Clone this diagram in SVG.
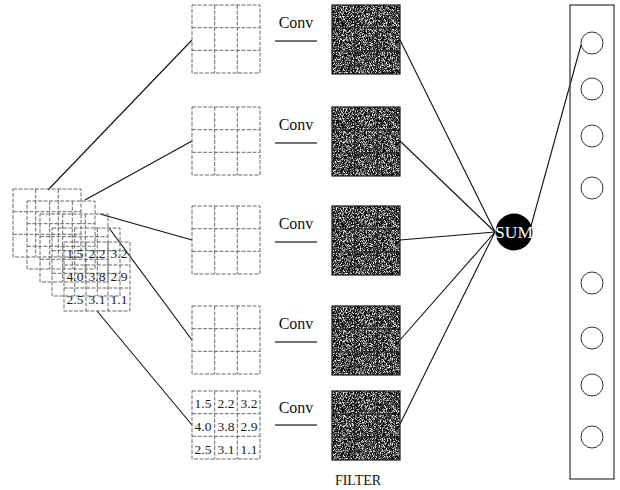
<svg xmlns="http://www.w3.org/2000/svg" width="620" height="490" viewBox="0 0 620 490">
<style>
.g{fill:none;stroke:#6a6a6a;stroke-width:1;stroke-dasharray:4 1.5}
.gl{stroke:#6a6a6a;stroke-width:1;stroke-dasharray:4 1.5}
.c{stroke:#111;stroke-width:1.1;fill:none}
.t{font-family:"Liberation Serif","Times New Roman",serif;fill:#111}
.n{font-family:"Liberation Serif","Times New Roman",serif;font-size:13.5px;fill:#222;text-anchor:middle}
.ul{stroke:#444;stroke-width:1.5}
.fl{stroke:#1a1a1a;stroke-width:1.2;fill:none}
</style>
<defs>
<filter id="noise" x="0" y="0" width="1" height="1" color-interpolation-filters="sRGB">
<feTurbulence type="fractalNoise" baseFrequency="1.3" numOctaves="2" seed="3" result="t"/>
<feColorMatrix in="t" type="matrix" values="3.2 0 0 0 -1.3  3.2 0 0 0 -1.3  3.2 0 0 0 -1.3  0 0 0 0 1" result="m"/>
<feComposite in="m" in2="SourceGraphic" operator="in"/>
</filter>
<g id="grid3x3">
<rect class="g" x="0" y="0" width="68" height="68"/>
<line class="gl" x1="22.7" y1="0" x2="22.7" y2="68"/>
<line class="gl" x1="45.3" y1="0" x2="45.3" y2="68"/>
<line class="gl" x1="0" y1="22.7" x2="68" y2="22.7"/>
<line class="gl" x1="0" y1="45.3" x2="68" y2="45.3"/>
</g>
<g id="filt">
<rect x="0" y="0" width="68" height="69" fill="#333" filter="url(#noise)"/>
<rect class="fl" x="0" y="0" width="68" height="69" stroke="#222"/>
<line x1="22.7" y1="0" x2="22.7" y2="69" stroke="#1c1c1c" stroke-width="1"/>
<line x1="45.3" y1="0" x2="45.3" y2="69" stroke="#1c1c1c" stroke-width="1"/>
<line x1="0" y1="23" x2="68" y2="23" stroke="#1c1c1c" stroke-width="1"/>
<line x1="0" y1="46" x2="68" y2="46" stroke="#1c1c1c" stroke-width="1"/>
</g>
</defs>
<rect width="620" height="490" fill="#fff"/>

<g id="connectors">
<line class="c" x1="48" y1="190" x2="192" y2="40"/>
<line class="c" x1="85" y1="200" x2="192" y2="141"/>
<line class="c" x1="100" y1="214" x2="192" y2="240"/>
<line class="c" x1="109" y1="228" x2="192" y2="340"/>
<line class="c" x1="97" y1="311" x2="192" y2="425"/>
<line class="c" x1="400" y1="40" x2="495" y2="232"/>
<line class="c" x1="400" y1="141" x2="495" y2="232"/>
<line class="c" x1="400" y1="240" x2="495" y2="232"/>
<line class="c" x1="400" y1="340" x2="495" y2="232"/>
<line class="c" x1="400" y1="424" x2="495" y2="232"/>
<line class="c" x1="531" y1="226" x2="581" y2="45"/>
</g>

<g id="input-stack">
<use href="#grid3x3" x="13" y="189"/>
<use href="#grid3x3" x="27" y="201"/>
<use href="#grid3x3" x="40" y="214"/>
<use href="#grid3x3" x="52" y="228"/>
<g transform="translate(64,242)">
<rect class="g" x="0" y="0" width="66" height="69"/>
<line class="gl" x1="22" y1="0" x2="22" y2="69"/>
<line class="gl" x1="44" y1="0" x2="44" y2="69"/>
<line class="gl" x1="0" y1="23" x2="66" y2="23"/>
<line class="gl" x1="0" y1="46" x2="66" y2="46"/>
</g>
<text class="n" x="75" y="258">1.5</text><text class="n" x="97" y="258">2.2</text><text class="n" x="119" y="258">3.2</text>
<text class="n" x="75" y="281">4.0</text><text class="n" x="97" y="281">3.8</text><text class="n" x="119" y="281">2.9</text>
<text class="n" x="75" y="304">2.5</text><text class="n" x="97" y="304">3.1</text><text class="n" x="119" y="304">1.1</text>
</g>

<g id="patch1"><use href="#grid3x3" x="192" y="5"/></g>
<g id="patch2"><use href="#grid3x3" x="192" y="107"/></g>
<g id="patch3"><use href="#grid3x3" x="192" y="206"/></g>
<g id="patch4"><use href="#grid3x3" x="192" y="306"/></g>
<g id="patch5"><use href="#grid3x3" x="192" y="391"/>
<text class="n" x="203" y="408">1.5</text><text class="n" x="226" y="408">2.2</text><text class="n" x="249" y="408">3.2</text>
<text class="n" x="203" y="431">4.0</text><text class="n" x="226" y="431">3.8</text><text class="n" x="249" y="431">2.9</text>
<text class="n" x="203" y="454">2.5</text><text class="n" x="226" y="454">3.1</text><text class="n" x="249" y="454">1.1</text>
</g>

<g id="conv-labels">
<text class="t" x="296" y="28" font-size="16" text-anchor="middle">Conv</text>
<line class="ul" x1="275" y1="41" x2="317" y2="41"/>
<text class="t" x="296" y="130" font-size="16" text-anchor="middle">Conv</text>
<line class="ul" x1="275" y1="143" x2="317" y2="143"/>
<text class="t" x="296" y="229" font-size="16" text-anchor="middle">Conv</text>
<line class="ul" x1="275" y1="242" x2="317" y2="242"/>
<text class="t" x="296" y="329" font-size="16" text-anchor="middle">Conv</text>
<line class="ul" x1="275" y1="342" x2="317" y2="342"/>
<text class="t" x="296" y="413" font-size="16" text-anchor="middle">Conv</text>
<line class="ul" x1="275" y1="425" x2="317" y2="425"/>
</g>

<g id="filter1"><use href="#filt" x="332" y="5"/></g>
<g id="filter2"><use href="#filt" x="332" y="107"/></g>
<g id="filter3"><use href="#filt" x="332" y="206"/></g>
<g id="filter4"><use href="#filt" x="332" y="306"/></g>
<g id="filter5"><use href="#filt" x="332" y="391"/></g>
<text class="t" x="358" y="485" font-size="14" text-anchor="middle">FILTER</text>

<g id="sum">
<circle cx="514" cy="232" r="18.5" fill="#000"/>
<text x="514" y="238" font-family="Liberation Serif, Times New Roman, serif" font-size="17.5" fill="#fff" text-anchor="middle">SUM</text>
</g>

<g id="output">
<rect x="570" y="5" width="44" height="474" fill="none" stroke="#333" stroke-width="1.2"/>
<g fill="none" stroke="#333" stroke-width="1">
<circle cx="592" cy="43" r="11"/>
<circle cx="592" cy="89" r="11"/>
<circle cx="592" cy="136" r="11"/>
<circle cx="592" cy="188" r="11"/>
<circle cx="592" cy="283" r="11"/>
<circle cx="592" cy="338" r="11"/>
<circle cx="592" cy="385" r="11"/>
<circle cx="592" cy="437" r="11"/>
</g>
</g>
</svg>
